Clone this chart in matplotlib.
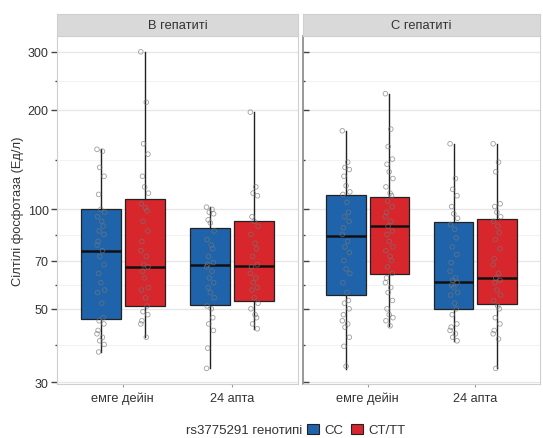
import matplotlib
matplotlib.use("Agg")
import matplotlib.pyplot as plt
import matplotlib.ticker as mticker
from matplotlib.patches import Patch
import numpy as np

plt.rcParams['font.family'] = ['Liberation Sans', 'DejaVu Sans']

panels = ["В гепатиті", "С гепатиті"]
times = ["емге дейін", "24 апта"]
genotypes = ["CC", "CT/TT"]
colors = ["#1f64aa", "#d8262d"]

# box statistics, order: (panel, time, genotype)
q1 = [46.6, 50.9, 51.3, 52.8, 55.1, 63.7, 49.9, 51.6]
med = [74.8, 66.9, 67.9, 67.4, 83.0, 89.0, 60.3, 61.9]
q3 = [100.0, 107.5, 87.9, 92.3, 110.7, 109.0, 91.6, 93.6]
whislo = [37.0, 41.0, 33.0, 43.5, 32.8, 44.4, 39.9, 33.0]
whishi = [152.0, 300.0, 101.6, 197.0, 173.0, 224.0, 158.0, 158.0]

# raw observations
pts_b_pre_cc = [152, 150, 134, 126, 111, 100, 98, 95, 92, 89, 86, 84, 80, 78, 75, 72, 68, 64, 60, 57, 56, 52, 47, 46, 45, 43, 42, 41, 40, 39, 37]
pts_b_pre_ct = [300, 211, 158, 147, 126, 117, 112, 104, 101, 99, 92, 86, 80, 75, 72, 68, 67, 65, 62, 58, 57, 54, 51, 49, 48, 46, 45, 41]
pts_b_24_cc = [101.6, 100, 98, 97, 93, 91, 86, 81, 78, 76, 72, 69, 68, 67, 65, 62, 60, 58, 56, 54, 51, 50, 47, 45, 43, 38, 33]
pts_b_24_ct = [197, 117, 112, 110, 95, 92, 89, 84, 79, 76, 72, 68, 67, 64, 62, 60, 58, 57, 54, 52, 50, 48, 47, 45, 43.5]
pts_c_pre_cc = [173, 139, 134, 132, 126, 118, 113, 111, 105, 98, 95, 92, 88, 84, 80, 77, 74, 70, 66, 64, 60, 56, 53, 52, 50, 48, 46, 45, 44, 41, 38.5, 33.5]
pts_c_pre_ct = [224, 175, 155, 142, 137, 130, 124, 117, 112, 110, 106, 102, 98, 95, 92, 89, 86, 84, 80, 77, 75, 72, 70, 67, 64, 62, 60, 58, 56, 53, 50, 48, 47, 46, 44.4]
pts_c_24_cc = [158, 124, 115, 110, 102, 97, 94, 90, 87, 82, 77, 73, 69, 65, 62, 61, 60, 59, 58, 56, 55, 52, 50, 48, 45, 44, 43, 42, 41, 40]
pts_c_24_ct = [158, 139, 130, 104, 102, 98, 95, 92, 89, 85, 81, 76, 71, 68, 64, 62, 61, 60, 57, 55, 53, 51, 50, 47, 45, 43, 42, 40.5, 33]
points = [pts_b_pre_cc, pts_b_pre_ct, pts_b_24_cc, pts_b_24_ct,
          pts_c_pre_cc, pts_c_pre_ct, pts_c_24_cc, pts_c_24_ct]

major = [30, 50, 70, 100, 200, 300]
minor = [float(np.sqrt(a * b)) for a, b in zip(major[:-1], major[1:])]

jit = [-0.035, 0.015, -0.01, 0.03, -0.02, 0.0, 0.035, -0.03, 0.008, 0.022, -0.015, 0.028, -0.025]

fig = plt.figure(figsize=(5.43, 4.39), dpi=100)
W, H = 543, 439
panel_x = [(57, 298), (303, 540)]
ptop, pbot = 37, 385
strip_top = 15

for p in range(2):
    x0, x1 = panel_x[p]
    ax = fig.add_axes([x0 / W, 1 - pbot / H, (x1 - x0) / W, (pbot - ptop) / H])
    ax.set_yscale('log')
    ax.set_facecolor('white')
    for v in major:
        ax.axhline(v, color='#e6e6e6', lw=0.9, zorder=0)
    for v in minor:
        ax.axhline(v, color='#f0f0f0', lw=0.6, zorder=0)

    for t in range(2):
        for g in range(2):
            i = p * 4 + t * 2 + g
            pos = t + 1 + (-0.2 if g == 0 else 0.2)
            st = [dict(med=med[i], q1=q1[i], q3=q3[i], whislo=whislo[i], whishi=whishi[i], fliers=[])]
            ax.bxp(st, positions=[pos], widths=0.365, patch_artist=True, showcaps=False, manage_ticks=False,
                   boxprops=dict(facecolor=colors[g], edgecolor='#222222', linewidth=0.9),
                   medianprops=dict(color='#111111', linewidth=1.8),
                   whiskerprops=dict(color='#222222', linewidth=1.0), zorder=2)
            vals = points[i]
            xs = [pos + jit[k % len(jit)] for k in range(len(vals))]
            ax.scatter(xs, vals, s=11, facecolors='none', edgecolors='#777777', linewidths=0.6, alpha=0.7, zorder=3)

    ax.set_ylim(29.6, 335)
    ax.set_xlim(0.4, 2.6)
    ax.yaxis.set_major_locator(mticker.FixedLocator(major))
    ax.yaxis.set_minor_locator(mticker.FixedLocator(minor))
    ax.yaxis.set_major_formatter(mticker.FixedFormatter([str(v) for v in major]))
    ax.yaxis.set_minor_formatter(mticker.NullFormatter())
    ax.xaxis.set_major_locator(mticker.FixedLocator([1, 2]))
    ax.xaxis.set_major_formatter(mticker.FixedFormatter(times))
    ax.xaxis.set_minor_locator(mticker.NullLocator())
    ax.tick_params(axis='x', length=2.5, color='#999999', pad=3, labelsize=9.2, labelcolor='#333333')
    for s in ax.spines.values():
        s.set_color('#cfcfcf')
        s.set_linewidth(0.8)
    if p == 0:
        ax.tick_params(axis='y', which='major', length=4.5, width=1.0, color='#444444', labelsize=9,
                       labelcolor='#333333', pad=1.5)
        ax.tick_params(axis='y', which='minor', length=1.5, width=1.0, color='#444444')
        ax.set_ylabel("Сілтілі фосфотаза (Ед/л)", fontsize=9.3, color='#333333', labelpad=3)
    else:
        ax.spines['left'].set_color('#888888')
        ax.spines['left'].set_linewidth(1.2)
        ax.tick_params(axis='y', which='major', direction='in', length=4, width=1.0, color='#444444', labelleft=False)
        ax.tick_params(axis='y', which='minor', direction='in', length=1.5, width=1.0, color='#444444', labelleft=False)

    sax = fig.add_axes([x0 / W, 1 - ptop / H, (x1 - x0) / W, (ptop - strip_top) / H])
    sax.set_facecolor('#d9d9d9')
    sax.set_xticks([]); sax.set_yticks([])
    for s in sax.spines.values():
        s.set_color('#cfcfcf')
        s.set_linewidth(0.8)
    sax.text(0.5, 0.5, panels[p], ha='center', va='center', fontsize=9.3, color='#333333', transform=sax.transAxes)

fig.text(302 / W, 1 - 431 / H, "rs3775291 генотипі", ha='right', va='center', fontsize=9.5, color='#333333')
handles = [Patch(facecolor=colors[g], edgecolor='#222222', linewidth=0.8) for g in range(2)]
fig.legend(handles, genotypes, loc='center left', bbox_to_anchor=(307 / W, 1 - 431 / H), ncol=2, frameon=False,
           fontsize=9.5, handlelength=0.9, handleheight=0.8, handletextpad=0.4, columnspacing=0.6, borderpad=0, borderaxespad=0,
           labelcolor='#333333')

fig.savefig("out.png", dpi=100)
